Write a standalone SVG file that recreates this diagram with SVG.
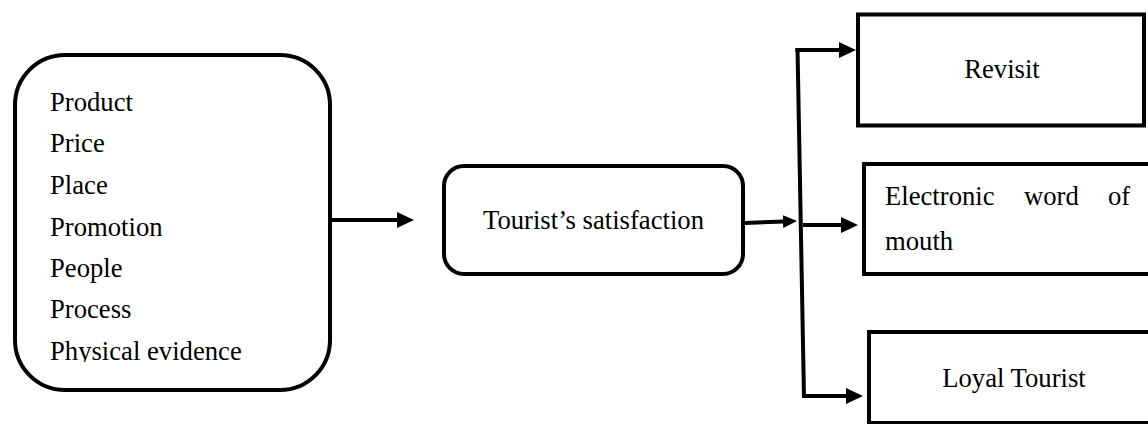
<svg xmlns="http://www.w3.org/2000/svg" width="1148" height="424" viewBox="0 0 1148 424">
<style>
.box{fill:#fff;stroke:#000;stroke-width:4}
.t{font-family:'Liberation Serif','Times New Roman',serif;font-size:26.67px;fill:#000}
.c{fill:none;stroke:#000;stroke-width:4}
</style>
<defs>
<marker id="ah" markerUnits="userSpaceOnUse" markerWidth="17" markerHeight="16" refX="1" refY="8" orient="auto" viewBox="0 0 17 16">
<path d="M0,0 L17,8 L0,16 z" fill="#000"/>
</marker>
<marker id="ahs" markerUnits="userSpaceOnUse" markerWidth="14" markerHeight="13" refX="1" refY="6.5" orient="auto" viewBox="0 0 14 13">
<path d="M0,0 L14,6.5 L0,13 z" fill="#000"/>
</marker>
<clipPath id="clipL"><rect x="0" y="0" width="400" height="362"/></clipPath>
</defs>
<rect width="1148" height="424" fill="#fff"/>
<g id="connectors">
<path class="c" d="M332,220 H398" marker-end="url(#ah)"/>
<path class="c" d="M745,223 L784,221.5" marker-end="url(#ahs)"/>
<path class="c" d="M797.5,48 L804,398"/>
<path class="c" d="M795.5,50 H840" marker-end="url(#ah)"/>
<path class="c" d="M803,225 H842" marker-end="url(#ah)"/>
<path class="c" d="M802,396 H847" marker-end="url(#ah)"/>
</g>
<g id="mix">
<rect class="box" x="15" y="55" width="315" height="335" rx="50" ry="50"/>
<g clip-path="url(#clipL)">
<text class="t" x="50" y="111">Product</text>
<text class="t" x="50" y="152">Price</text>
<text class="t" x="50" y="194">Place</text>
<text class="t" x="50" y="236">Promotion</text>
<text class="t" x="50" y="277">People</text>
<text class="t" x="50" y="318">Process</text>
<text class="t" x="50" y="360">Physical evidence</text>
</g>
</g>
<g id="satisfaction">
<rect class="box" x="444" y="166" width="299" height="108" rx="20" ry="20"/>
<text class="t" x="593.5" y="229" text-anchor="middle">Tourist’s satisfaction</text>
</g>
<g id="revisit">
<rect class="box" x="858" y="14.5" width="286" height="111"/>
<text class="t" x="1002" y="78" text-anchor="middle">Revisit</text>
</g>
<g id="ewom">
<rect class="box" x="864" y="164" width="300" height="110"/>
<text class="t" x="885" y="205">Electronic</text>
<text class="t" x="1024" y="205">word</text>
<text class="t" x="1108" y="205">of</text>
<text class="t" x="885" y="250">mouth</text>
</g>
<g id="loyal">
<rect class="box" x="869" y="332" width="300" height="91"/>
<text class="t" x="1014" y="387" text-anchor="middle">Loyal Tourist</text>
</g>
</svg>
